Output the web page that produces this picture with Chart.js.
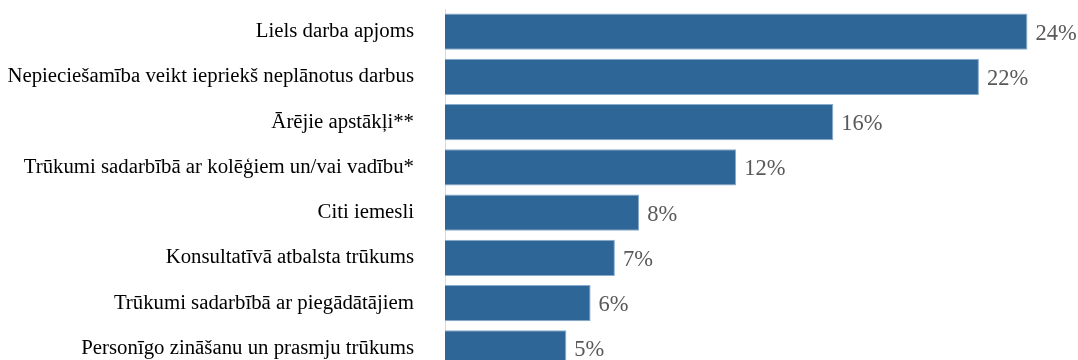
<!DOCTYPE html>
<html>
<head>
<meta charset="utf-8">
<script src="https://cdn.jsdelivr.net/npm/chart.js@4"></script>
<style>
  html,body{margin:0;padding:0;background:#fff;overflow:hidden;}
  #wrap{position:relative;width:1078px;height:371px;}
</style>
</head>
<body>
<div id="wrap"><canvas id="c"></canvas></div>
<script>
// survey answers, share of respondents (%)
const categories = [
  'Liels darba apjoms',
  'Nepieciešamība veikt iepriekš neplānotus darbus',
  'Ārējie apstākļi**',
  'Trūkumi sadarbībā ar kolēģiem un/vai vadību*',
  'Citi iemesli',
  'Konsultatīvā atbalsta trūkums',
  'Trūkumi sadarbībā ar piegādātājiem',
  'Personīgo zināšanu un prasmju trūkums'
];
const shares = [24, 22, 16, 12, 8, 7, 6, 5];

// percent labels next to bar ends
const valueLabels = {
  id: 'valueLabels',
  afterDatasetsDraw(chart){
    const ctx = chart.ctx;
    const meta = chart.getDatasetMeta(0);
    ctx.save();
    ctx.font = '22.5px "Liberation Serif", "Times New Roman", serif';
    ctx.fillStyle = '#595959';
    ctx.textAlign = 'left';
    ctx.textBaseline = 'middle';
    meta.data.forEach((bar, i) => {
      ctx.fillText(shares[i] + '%', bar.x + 8, bar.y + 2);
    });
    ctx.restore();
  }
};

new Chart(document.getElementById('c'), {
  type: 'bar',
  data: {
    labels: categories,
    datasets: [{
      data: shares,
      backgroundColor: '#2e6698',
      borderColor: '#8aaccc',
      borderWidth: 1,
      barPercentage: 0.8,
      categoryPercentage: 1
    }]
  },
  options: {
    indexAxis: 'y',
    responsive: true,
    maintainAspectRatio: false,
    animation: false,
    layout: { padding: { top: 9, bottom: 0, left: 0, right: 2 } },
    plugins: { legend: { display: false }, tooltip: { enabled: false } },
    scales: {
      x: {
        display: false,
        min: 0,
        max: 26
      },
      y: {
        afterFit(scale){
          scale.width = 445;
          // tick padding should only push labels sideways
          scale.paddingTop = 0;
          scale.paddingBottom = 0;
        },
        grid: { display: false, drawTicks: false },
        border: { display: true, color: '#d9d9d9', width: 1 },
        ticks: {
          padding: 31,
          color: '#000',
          font: { family: '"Liberation Serif", "Times New Roman", serif', size: 20.8 }
        }
      }
    }
  },
  plugins: [valueLabels]
});
</script>
</body>
</html>
